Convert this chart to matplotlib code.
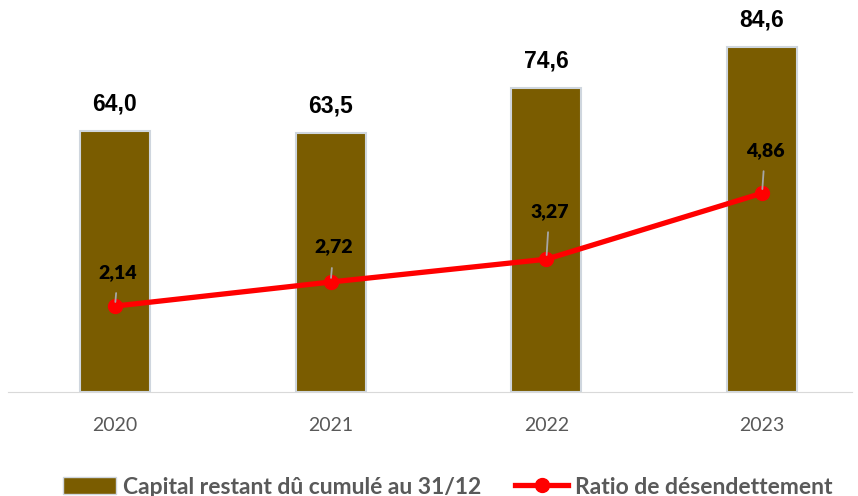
from matplotlib import pyplot as plt
import matplotlib
from matplotlib.lines import Line2D
from matplotlib.patches import Patch
import numpy as np

matplotlib.rcParams['font.family'] = ['Lato', 'DejaVu Sans']

annees = ['2020', '2021', '2022', '2023']
capital = [64.0, 63.5, 74.6, 84.6]
ratio = [2.14, 2.72, 3.27, 4.86]

# décalage vertical des étiquettes du ratio (pixels)
decal_ratio = [34, 35, 48, 43]

couleur_barre = '#7a5c00'
couleur_ligne = '#ff0000'
gris = '#595959'

fig = plt.figure(figsize=(8.58, 4.96), dpi=100)
ax = fig.add_axes([8 / 858, 1 - 392 / 496, 844 / 858, 382 / 496])
x = np.arange(len(annees))

ax.bar(x, capital, width=0.325, color=couleur_barre, edgecolor='#cfd6de', linewidth=1.5, zorder=2)
ax.set_xlim(-0.496, 3.417)
ax.set_ylim(0, 382 / 4.08)
for xi, v in zip(x, capital):
    ax.annotate(f'{v:.1f}'.replace('.', ','), (xi, v), xytext=(0, 27), textcoords='offset pixels',
                ha='center', va='center', fontsize=16.5, fontweight='bold', color='black',
                family=['Liberation Sans', 'DejaVu Sans'])

ax2 = ax.twinx()
ax2.set_ylim(0.07, 382 / 41.5 + 0.07)
ax2.plot(x, ratio, color=couleur_ligne, lw=3.8, marker='o', markersize=10, zorder=3)
for xi, v, d in zip(x, ratio, decal_ratio):
    ax2.annotate(f'{v:.2f}'.replace('.', ','), (xi, v), xytext=(3, d), textcoords='offset pixels',
                 ha='center', va='center', fontsize=14, fontweight='heavy', color='black',
                 arrowprops=dict(arrowstyle='-', color='#a6a6a6', lw=1.3, shrinkA=7, shrinkB=3))

for a in (ax, ax2):
    for s in ['top', 'right', 'left']:
        a.spines[s].set_visible(False)
    a.set_yticks([])
ax2.spines['bottom'].set_visible(False)
ax.spines['bottom'].set_color('#d9d9d9')
ax.set_xticks(x)
ax.set_xticklabels(annees, fontsize=14, color=gris)
ax.tick_params(axis='x', length=0, pad=18)

poignees = [Patch(facecolor=couleur_barre, edgecolor='#cfd6de'),
            Line2D([0], [0], color=couleur_ligne, lw=3.8, marker='o', markersize=10)]
fig.legend(poignees, ['Capital restant dû cumulé au 31/12', 'Ratio de désendettement'],
           loc='center', bbox_to_anchor=(0.522, 1 - 487 / 496), ncol=2, frameon=False,
           prop={'size': 16.5, 'weight': 'bold'}, labelcolor=gris,
           handlelength=2.3, handleheight=0.7, handletextpad=0.3, columnspacing=1.5,
           borderpad=0)

fig.savefig('out.png', dpi=100)
